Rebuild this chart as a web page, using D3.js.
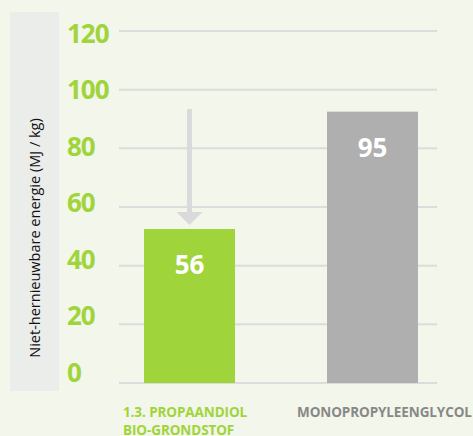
<!DOCTYPE html>
<html>
<head>
<meta charset="utf-8">
<script src="https://cdn.jsdelivr.net/npm/d3@7"></script>
<style>
  body { margin: 0; background: #f3f6ea; }
  svg { display: block; font-family: "Open Sans", sans-serif; }
</style>
</head>
<body>
<div id="chart"></div>
<script>
// Data
const categories = ["1.3. PROPAANDIOL\nBIO-GRONDSTOF", "MONOPROPYLEENGLYCOL"];
const values = [52.5, 92.5];          // bar heights as drawn
const valueLabels = ["56", "95"];     // printed numbers
const ticks = [0, 20, 40, 60, 80, 100, 120];
const yTitle = "Niet-hernieuwbare energie (MJ / kg)";

const width = 473, height = 436;
const margin = { top: 31, right: 36, bottom: 53, left: 119 };
const innerW = width - margin.left - margin.right;
const innerH = height - margin.top - margin.bottom;

const green = "#9fd43b", grey = "#afafaf";

const svg = d3.select("#chart")
    .append("svg")
    .attr("width", width)
    .attr("height", height);

// y title panel
svg.append("rect")
    .attr("x", 10).attr("y", 12)
    .attr("width", 49).attr("height", 379)
    .attr("fill", "#ebedeb");

svg.append("text")
    .attr("transform", "translate(40,238) rotate(-90)")
    .attr("text-anchor", "middle")
    .attr("font-size", 14.5)
    .attr("font-weight", 500)
    .attr("fill", "#111")
    .text(yTitle);

const g = svg.append("g")
    .attr("transform", "translate(" + margin.left + "," + margin.top + ")");

const y = d3.scaleLinear().domain([0, 120]).range([innerH, 0]);
const yLab = d3.scaleLinear().domain([0, 120]).range([innerH - 10.5, 2.5]);

const barW = 91;
const xPos = d3.scalePoint().domain(categories).range([25, 208]);

// gridlines
g.selectAll(".grid")
    .data(ticks)
    .enter()
    .append("line")
    .attr("x1", 0).attr("x2", innerW)
    .attr("y1", d => y(d)).attr("y2", d => y(d))
    .attr("stroke", "#dcdcdc")
    .attr("stroke-width", 2);

// tick labels
g.selectAll(".tick")
    .data(ticks)
    .enter()
    .append("text")
    .attr("x", -52)
    .attr("y", d => yLab(d))
    .attr("dy", "0.36em")
    .attr("font-size", 26)
    .attr("font-weight", 700)
    .attr("fill", green)
    .attr("letter-spacing", -1)
    .text(d => d);

// arrow
const ax = xPos(categories[0]) + barW / 2;
g.append("line")
    .attr("x1", ax).attr("x2", ax)
    .attr("y1", 78).attr("y2", 184)
    .attr("stroke", "#dadada")
    .attr("stroke-width", 5);
g.append("path")
    .attr("d", d3.line()([[ax - 13, 181], [ax + 13, 181], [ax, 194]]))
    .attr("fill", "#dadada");

// bars
g.selectAll(".bar")
    .data(values)
    .enter()
    .append("rect")
    .attr("x", (d, i) => xPos(categories[i]))
    .attr("y", d => y(d))
    .attr("width", barW)
    .attr("height", d => innerH - y(d))
    .attr("fill", (d, i) => i === 0 ? green : grey);

// value labels
g.selectAll(".val")
    .data(values)
    .enter()
    .append("text")
    .attr("x", (d, i) => xPos(categories[i]) + barW / 2)
    .attr("y", d => y(d) + 36)
    .attr("dy", "0.36em")
    .attr("text-anchor", "middle")
    .attr("font-size", 26)
    .attr("font-weight", 700)
    .attr("fill", "#fff")
    .text((d, i) => valueLabels[i]);

// category labels
categories.forEach((c, i) => {
    const lx = xPos(c) - (i === 0 ? 21 : 30);
    const t = g.append("text")
        .attr("x", lx)
        .attr("y", innerH + 34)
        .attr("font-size", 13.5)
        .attr("font-weight", 700)
        .attr("fill", i === 0 ? green : "#888")
        .attr("letter-spacing", -0.1);
    c.split("\n").forEach((line, j) => {
        t.append("tspan")
            .attr("x", lx)
            .attr("dy", j === 0 ? 0 : 18)
            .text(line);
    });
});
</script>
</body>
</html>
